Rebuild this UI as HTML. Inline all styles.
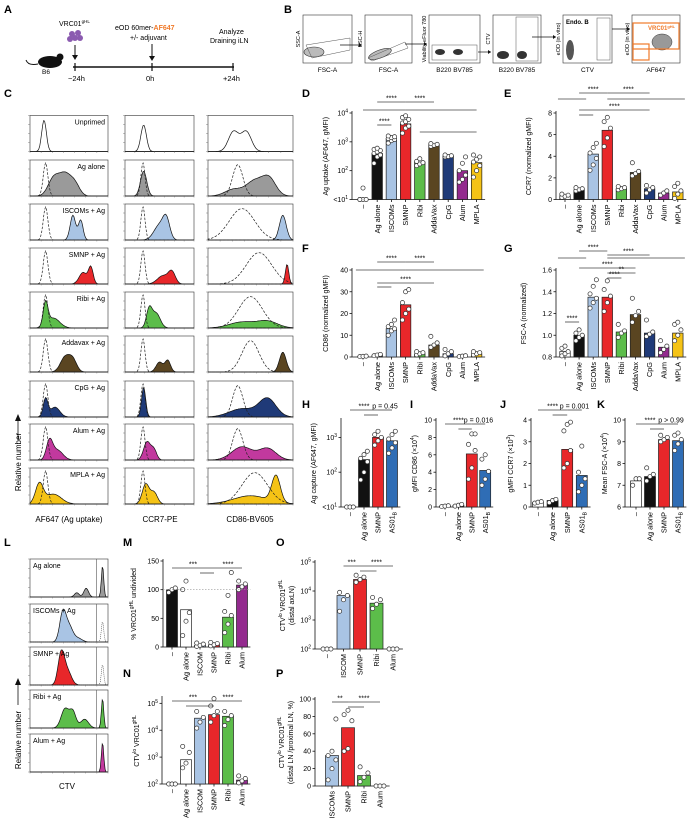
<!DOCTYPE html>
<html><head><meta charset="utf-8">
<style>
html,body{margin:0;padding:0;background:#fff;}
svg{display:block;font-family:"Liberation Sans",Arial,sans-serif;}
</style></head>
<body>
<svg id="fig" width="690" height="823" viewBox="0 0 690 823">
<!-- Panel A -->
<g>
<text x="4" y="13" font-size="11" font-weight="bold">A</text>
<ellipse cx="50" cy="62" rx="12" ry="6" fill="#111"/>
<circle cx="60" cy="57" r="3.5" fill="#111"/><path d="M38 64 Q28 66 26 60" stroke="#111" fill="none" stroke-width="1"/>
<text x="42" y="74" font-size="6.5">B6</text>
<circle cx="72" cy="34" r="3" fill="#8b5bb0"/><circle cx="78" cy="33" r="3" fill="#8b5bb0"/><circle cx="75" cy="38" r="3" fill="#8b5bb0"/><circle cx="70" cy="39" r="3" fill="#8b5bb0"/><circle cx="80" cy="38" r="3" fill="#8b5bb0"/>
<text x="59" y="26" font-size="7">VRC01<tspan font-size="4.5" dy="-3">gHL</tspan></text>
<line x1="75" y1="45" x2="75" y2="57" stroke="#111"/><path d="M72 55 L75 60 L78 55Z" fill="#111"/>
<line x1="73" y1="67" x2="234" y2="67" stroke="#111" stroke-width="1.5"/>
<line x1="75" y1="63" x2="75" y2="71" stroke="#111" stroke-width="1.2"/><line x1="152" y1="63" x2="152" y2="71" stroke="#111" stroke-width="1.2"/><line x1="233" y1="63" x2="233" y2="71" stroke="#111" stroke-width="1.2"/>
<text x="68" y="81" font-size="7.5">−24h</text><text x="146" y="81" font-size="7.5">0h</text><text x="223" y="81" font-size="7.5">+24h</text>
<text x="115" y="30" font-size="7">eOD 60mer-<tspan fill="#f07a2a" font-weight="bold">AF647</tspan></text>
<text x="130" y="40" font-size="7">+/- adjuvant</text>
<line x1="152" y1="44" x2="152" y2="58" stroke="#111"/><path d="M149 56 L152 61 L155 56Z" fill="#111"/>
<text x="219" y="34" font-size="7">Analyze</text><text x="210" y="43" font-size="7">Draining iLN</text>
</g>
<text x="284" y="13" font-size="11" font-weight="bold">B</text>
<g id="pb"></g>
<g id="pc"></g>
<g id="charts"></g>
<g id="pl"></g>
</svg>
<script>
// ---------- DATA ----------
const catsD = ['–','Ag alone','ISCOMs','SMNP','Ribi','AddaVax','CpG','Alum','MPLA'];
const colorsD = ['#ffffff','#111111','#a9c4e4','#e8272a','#5cbd4a','#5a4521','#1f3a78','#932a8e','#f5c316'];
const valsD = [10,400,1300,4200,200,800,320,100,190];
const ptsD = [[10,10,10,10,25],[180,300,350,400,450,500,550,600],[900,1100,1200,1300,1400,1500,1600],[2000,3000,3500,4500,5000,6000,7000,8000],[150,170,190,210,260],[700,760,820,870],[300,310,330,350],[40,50,70,100,180,300],[60,100,150,200,250,300,350]];
const valsE = [0.35,0.9,4.2,6.4,1.0,2.5,1.0,0.6,0.7];
const ptsE = [[0.2,0.3,0.4,0.5],[0.8,0.9,1.0,1.1],[2.7,3.2,3.8,4.3,4.8,5.2],[4.9,5.7,6.6,7.2,7.6],[0.9,1.0,1.1,1.2],[2.2,2.4,2.6,3.4],[0.6,0.9,1.1,1.3],[0.4,0.6,0.8],[0.1,0.5,0.8,1.2,1.5]];
const valsF = [0.3,0.8,13,24,1.5,5.5,1.5,0.4,1.5];
const ptsF = [[0.2,0.3,0.4],[0.6,0.9,1.2],[10,12,13,14,15,17],[17,20,22,25,30,31],[1,1.5,2,2.5],[4.5,5.5,6.5,9.5],[0.5,1.5,2.5,3.5],[0.2,0.4,0.6],[1,1.5,2,2.5]];
const valsG = [0.85,1.0,1.35,1.35,1.03,1.19,1.02,0.89,1.02];
const ptsG = [[0.81,0.83,0.85,0.88,0.9],[0.95,0.98,1.0,1.02,1.05],[1.25,1.3,1.34,1.38,1.45,1.51],[1.22,1.3,1.36,1.42,1.5],[0.98,1.02,1.04,1.1],[1.12,1.18,1.22,1.34],[0.99,1.01,1.03,1.14],[0.84,0.87,0.9,0.95],[0.95,1.0,1.05,1.1,1.12]];
const catsH = ['–','Ag alone','SMNP','AS01B'];
const colorsH = ['#ffffff','#111111','#e8272a','#2f6db5'];
const valsH = [10,230,1000,800];
const ptsH = [[10,10,10],[60,100,200,250,320,400],[600,800,1000,1200,1500],[350,500,700,900,1200,1500]];
const valsI = [0.1,0.2,6.1,4.2];
const ptsI = [[0.05,0.1,0.15],[0.1,0.2,0.3],[3.2,4.5,6.5,7.2,8.4,8.4],[2.5,3.2,4.1,5.5,6.0]];
const valsJ = [0.2,0.3,2.65,1.45];
const ptsJ = [[0.18,0.22,0.25],[0.2,0.3,0.35],[1.8,2.0,2.6,3.5,3.8,3.9],[0.7,1.0,1.3,1.6,2.8]];
const valsK = [7.2,7.4,9.1,9.05];
const ptsK = [[7.0,7.3,7.3],[7.2,7.4,7.5,7.8],[9.0,9.1,9.2,9.3],[8.6,8.9,9.1,9.3,9.4]];
const catsM = ['–','Ag alone','ISCOM','SMNP','Ribi','Alum'];
const colorsM = ['#111111','#ffffff','#a9c4e4','#e8272a','#5cbd4a','#932a8e'];
const valsM = [100,65,3,4,52,108];
const ptsM = [[95,100,103],[20,45,60,100,115],[1,3,5,7],[2,4,6,8],[25,40,55,62,90,130],[100,105,110,115]];
const valsN = [100,800,28000,38000,33000,140];
const ptsN = [[100,100,100],[400,600,1500,2500],[12000,20000,30000,50000],[20000,35000,50000,80000,150000],[15000,25000,35000,50000],[110,130,160,200]];
const catsO = ['–','ISCOM','SMNP','Ribi','Alum'];
const colorsO = ['#ffffff','#a9c4e4','#e8272a','#5cbd4a','#932a8e'];
const valsO = [100,7000,25000,3800,100];
const ptsO = [[100,100,100],[2000,5000,7000,9000],[20000,25000,30000,35000],[2500,3500,5000,6000],[100,100,100]];
const catsP = ['ISCOMs','SMNP','Ribi','Alum'];
const colorsP = ['#a9c4e4','#e8272a','#5cbd4a','#932a8e'];
const valsP = [35,67,12,0];
const ptsP = [[7,20,30,35,40,77],[40,43,75,82,87],[5,10,15,22],[0,0,0]];

// ---------- HELPERS ----------
const NS='http://www.w3.org/2000/svg';
function mk(tag, attrs, parent, name){
  const e=document.createElementNS(NS,tag);
  for(const k in attrs) e.setAttribute(k,attrs[k]);
  
  
  parent.appendChild(e);
  return e;
}
function txt(parent,x,y,s,size,name,extra){
  const a=Object.assign({x:x,y:y,'font-size':size},extra||{});
  const t=mk('text',a,parent,name);
  t.innerHTML=s;
  return t;
}
const sup = n => '10<tspan font-size="5" dy="-3">'+n+'</tspan>';
const charts=document.getElementById('charts');

function barChart(c){
  const g=mk('g',{},charts,c.name);
  const lo=c.log?Math.log10(c.domain[0]):c.domain[0];
  const hi=c.log?Math.log10(c.domain[1]):c.domain[1];
  const ys=v=>{let t=c.log?Math.log10(Math.max(v,c.domain[0])):Math.max(v,c.domain[0]);return c.yBot-(t-lo)/(hi-lo)*(c.yBot-c.yTop);};
  const n=c.vals.length;
  const xEnd=c.x0+(n-1)*c.step+c.step*0.6;
  mk('line',{x1:c.ax,y1:c.yTop-2,x2:c.ax,y2:c.yBot,stroke:'#111','stroke-width':0.8},g,'y-axis');
  mk('line',{x1:c.ax,y1:c.yBot,x2:xEnd,y2:c.yBot,stroke:'#111','stroke-width':0.8},g,'x-axis');
  c.ticks.forEach((t,i)=>{
    const y=ys(t);
    mk('line',{x1:c.ax-2.5,y1:y,x2:c.ax,y2:y,stroke:'#111','stroke-width':0.8},g,'y-tick');
    txt(g,c.ax-4,y+2.5,c.tickLabels[i],7,'y-tick-label',{'text-anchor':'end'});
  });
  c.vals.forEach((v,i)=>{
    const xc=c.x0+i*c.step;
    const yv=ys(v);
    if(c.yBot-yv>0.3){
      const b=mk('rect',{x:xc-c.bw/2,y:yv,width:c.bw,height:c.yBot-yv,fill:c.colors[i],stroke:'#222','stroke-width':0.7},g,'bar-'+i);
      
    }
    mk('line',{x1:xc,y1:c.yBot,x2:xc,y2:c.yBot+2.5,stroke:'#111','stroke-width':0.8},g,'x-tick');
    const lab=c.cats[i]==='AS01B'?'AS01<tspan font-size="5" dy="2">B</tspan>':c.cats[i];
    txt(g,0,0,lab,7.3,'x-tick-label',{'text-anchor':'end',transform:'translate('+(xc+2.6)+','+(c.yBot+5)+') rotate(-90)'});
    const pts=c.pts[i];
    pts.forEach((p,j)=>{
      const off=(j%3-1)*c.bw*0.3;
      const d=mk('circle',{cx:xc+off,cy:ys(p),r:2.1,fill:'#fff',stroke:'#333','stroke-width':0.7},g,'data-point');
      
    });
  });
  const mid=(c.yTop+c.yBot)/2;
  c.title.forEach((t,k)=>{
    txt(g,0,0,t,7,'y-axis-title',{'text-anchor':'middle',transform:'translate('+(c.tx+k*9)+','+mid+') rotate(-90)'});
  });
  txt(g,c.lx,c.ly,c.letter,11,'panel-label',{'font-weight':'bold'});
  (c.sig||[]).forEach(s=>{
    const x1=c.x0+s[0]*c.step, x2=c.x0+s[1]*c.step;
    mk('line',{x1:x1,y1:s[2],x2:x2,y2:s[2],stroke:'#444','stroke-width':0.8},g,'significance-bracket');
    if(s[3]) txt(g,(x1+x2)/2,s[2]-1.5,s[3],7,'significance-label',{'text-anchor':'middle'});
  });
  if(c.dotted!==undefined){
    mk('line',{x1:c.ax,y1:ys(c.dotted),x2:xEnd,y2:ys(c.dotted),stroke:'#999','stroke-width':0.7,'stroke-dasharray':'1.5,1.5'},g,'reference-line');
  }
  return g;
}

// ---------- CHARTS ----------
barChart({name:'chart-d',letter:'D',lx:302,ly:97,ax:352,yTop:113,yBot:199.5,domain:[10,10000],log:true,ticks:[10,100,1000,10000],tickLabels:['&lt;'+sup(1),sup(2),sup(3),sup(4)],cats:catsD,vals:valsD,pts:ptsD,colors:colorsD,x0:363,step:14.2,bw:10.5,title:['Ag uptake (AF647, gMFI)'],tx:328,
 sig:[[0,3,110,''],[1,3,102,'****'],[3,8,110,''],[3,5,102,'****'],[1,2,125,'****'],[4,8,132,'']]});
barChart({name:'chart-e',letter:'E',lx:504,ly:97,ax:556,yTop:113,yBot:199.5,domain:[0,8],log:false,ticks:[0,2,4,6,8],tickLabels:['0','2','4','6','8'],cats:catsD,vals:valsE,pts:ptsE,colors:colorsD,x0:565,step:14.1,bw:10.5,title:['CCR7 (normalized gMFI)'],tx:531,
 sig:[[-0.5,1.5,99,''],[1,3,93,'****'],[3,8.5,99,''],[3,6,93,'****'],[1,6,110,'****'],[1,2,115,'']]});
barChart({name:'chart-f',letter:'F',lx:302,ly:252,ax:352,yTop:270,yBot:357,domain:[0,40],log:false,ticks:[0,10,20,30,40],tickLabels:['0','10','20','30','40'],cats:catsD,vals:valsF,pts:ptsF,colors:colorsD,x0:363,step:14.2,bw:10.5,title:['CD86 (normalized gMFI)'],tx:328,
 sig:[[-0.5,3,270,''],[1,3,262,'****'],[3,8.5,270,''],[3,5,262,'****'],[1,5,283,'****'],[1,2,287,'']]});
barChart({name:'chart-g',letter:'G',lx:504,ly:252,ax:556,yTop:270,yBot:357,domain:[0.8,1.6],log:false,ticks:[0.8,1.0,1.2,1.4,1.6],tickLabels:['0.8','1.0','1.2','1.4','1.6'],cats:catsD,vals:valsG,pts:ptsG,colors:colorsD,x0:565,step:14.1,bw:10.5,title:['FSC-A (normalized)'],tx:526,
 sig:[[-0.5,1.5,258,''],[1,3,251,'****'],[1,5,268,'****'],[3,8.5,258,''],[3,6,255,'****'],[3,5,273,'**'],[3,4,278,'****'],[0,1,322,'****']]});
barChart({name:'chart-h',letter:'H',lx:302,ly:408,ax:341,yTop:420,yBot:507,domain:[10,3162],log:true,ticks:[10,100,1000],tickLabels:['&lt;'+sup(1),sup(2),sup(3)],cats:catsH,vals:valsH,pts:ptsH,colors:colorsH,x0:350,step:14,bw:11,title:['Ag capture (AF647, gMFI)'],tx:316,
 sig:[[0,2,410,'****'],[2,3,410,'p = 0.45'],[1,2,415,'']]});
barChart({name:'chart-i',letter:'I',lx:410,ly:408,ax:436,yTop:420,yBot:507,domain:[0,10],log:false,ticks:[0,2,4,6,8,10],tickLabels:['0','2','4','6','8','10'],cats:catsH,vals:valsI,pts:ptsI,colors:colorsH,x0:445,step:13.4,bw:11,title:['gMFI CD86 (×10<tspan font-size="5" dy="-3">4</tspan><tspan dy="3">)</tspan>'],tx:417,
 sig:[[0,2,424,'****'],[2,3,424,'p = 0.016'],[1,2,429,'']]});
barChart({name:'chart-j',letter:'J',lx:500,ly:408,ax:531,yTop:420,yBot:507,domain:[0,4],log:false,ticks:[0,1,2,3,4],tickLabels:['0','1','2','3','4'],cats:catsH,vals:valsJ,pts:ptsJ,colors:colorsH,x0:538,step:14.6,bw:11,title:['gMFI CCR7 (×10<tspan font-size="5" dy="-3">3</tspan><tspan dy="3">)</tspan>'],tx:513,
 sig:[[0,2,410,'****'],[2,3,410,'p = 0.001'],[1,2,415,'']]});
barChart({name:'chart-k',letter:'K',lx:597,ly:408,ax:625,yTop:420,yBot:507,domain:[6,10],log:false,ticks:[6,7,8,9,10],tickLabels:['6','7','8','9','10'],cats:catsH,vals:valsK,pts:ptsK,colors:colorsH,x0:636,step:14,bw:11,title:['Mean FSC-A (×10<tspan font-size="5" dy="-3">4</tspan><tspan dy="3">)</tspan>'],tx:607,
 sig:[[0,2,424,'****'],[2,3,424,'p &gt; 0.99'],[1,2,429,'']]});
barChart({name:'chart-m',letter:'M',lx:123,ly:546,ax:163,yTop:561,yBot:647,domain:[0,150],log:false,ticks:[0,50,100,150],tickLabels:['0','50','100','150'],cats:catsM,vals:valsM,pts:ptsM,colors:colorsM,x0:172,step:14,bw:11,title:['% VRC01<tspan font-size="5" dy="-3">gHL</tspan><tspan dy="3"> undivided</tspan>'],tx:136,dotted:100,
 sig:[[0,3,568,'***'],[3,5,568,'****'],[2,3,573,'']]});
barChart({name:'chart-n',letter:'N',lx:123,ly:677,ax:162,yTop:698,yBot:784,domain:[100,158000],log:true,ticks:[100,1000,10000,100000],tickLabels:[sup(2),sup(3),sup(4),sup(5)],cats:catsM,vals:valsN,pts:ptsN,colors:colorsM,x0:172,step:14,bw:11,title:['CTV<tspan font-size="5" dy="-3">lo</tspan><tspan dy="3"> VRC01</tspan><tspan font-size="5" dy="-3">gHL</tspan>'],tx:139,
 sig:[[0,3,701,'***'],[3,5,701,'****'],[1,3,706,'']]});
barChart({name:'chart-o',letter:'O',lx:276,ly:546,ax:315,yTop:562,yBot:649,domain:[100,100000],log:true,ticks:[100,1000,10000,100000],tickLabels:[sup(2),sup(3),sup(4),sup(5)],cats:catsO,vals:valsO,pts:ptsO,colors:colorsO,x0:327,step:16.5,bw:13,title:['CTV<tspan font-size="5" dy="-3">lo</tspan><tspan dy="3"> VRC01</tspan><tspan font-size="5" dy="-3">gHL</tspan>','(distal axLN)'],tx:285,
 sig:[[1,2,566,'***'],[2,4,566,'****'],[2,3,571,'']]});
barChart({name:'chart-p',letter:'P',lx:276,ly:677,ax:315,yTop:699,yBot:786,domain:[0,100],log:false,ticks:[0,20,40,60,80,100],tickLabels:['0','20','40','60','80','100'],cats:catsP,vals:valsP,pts:ptsP,colors:colorsP,x0:332,step:16,bw:13,title:['CTV<tspan font-size="5" dy="-3">lo</tspan><tspan dy="3"> VRC01</tspan><tspan font-size="5" dy="-3">gHL</tspan>','(distal LN /proximal LN, %)'],tx:284,
 sig:[[0,1,702,'**'],[1,3,702,'****'],[1,2,707,'']]});

// ---------- HISTOGRAMS (C) ----------
const rowLabelsC = ['Unprimed','Ag alone','ISCOMs + Ag','SMNP + Ag','Ribi + Ag','Addavax + Ag','CpG + Ag','Alum + Ag','MPLA + Ag'];
const rowColorsC = ['none','#9a9a9a','#a9c4e4','#e8272a','#5cbd4a','#5a4521','#1f3a78','#c2399e','#f5c316'];
// each: [center, width, height] gaussian components
const histC = [
 [[[0.18,0.03,0.95]],[[0.27,0.04,0.8]],[[0.3,0.06,0.6],[0.45,0.06,0.6]]],
 [[[0.3,0.07,0.5],[0.45,0.08,0.65],[0.58,0.06,0.3]],[[0.27,0.045,0.75]],[[0.3,0.1,0.2],[0.55,0.1,0.45],[0.72,0.08,0.5]]],
 [[[0.55,0.035,0.75],[0.65,0.03,0.6]],[[0.5,0.08,0.45],[0.6,0.05,0.55]],[[0.88,0.04,0.75]]],
 [[[0.68,0.05,0.35],[0.78,0.03,0.5]],[[0.55,0.08,0.25],[0.68,0.05,0.35]],[[0.93,0.02,0.6]]],
 [[[0.2,0.03,0.7],[0.3,0.08,0.3]],[[0.35,0.04,0.55],[0.45,0.06,0.45]],[[0.4,0.15,0.18],[0.7,0.12,0.2]]],
 [[[0.45,0.06,0.45],[0.55,0.05,0.35]],[[0.5,0.05,0.3],[0.62,0.04,0.35]],[[0.88,0.04,0.6]]],
 [[[0.2,0.03,0.55],[0.32,0.06,0.3]],[[0.27,0.03,0.9]],[[0.4,0.15,0.25],[0.7,0.1,0.55]]],
 [[[0.25,0.04,0.55],[0.35,0.07,0.3]],[[0.32,0.05,0.55],[0.42,0.04,0.3]],[[0.4,0.12,0.4],[0.7,0.1,0.35]]],
 [[[0.12,0.05,0.6],[0.3,0.1,0.3]],[[0.3,0.05,0.6],[0.42,0.05,0.35]],[[0.5,0.2,0.25],[0.8,0.05,0.8]]]
];
const dashC = [[0.2,0.03,1.0],[0.26,0.03,1.0],[0.35,0.06,0.95]];
const dashC3 = [0.35,0.35,0.4,0.6,0.5,0.5,0.35,0.35,0.55];
const dashW3 = [0.06,0.06,0.15,0.15,0.14,0.1,0.06,0.06,0.15];
const colX=[30,125,208], colW=[78,69,85];
const rowY=[115.5,160,204,248,292,336,381,424,468], rowH=36;

const pc=document.getElementById('pc');
txt(pc,4,97,'C',11,'panel-label-c',{'font-weight':'bold'});
function curve(comps,x,y,w,h){
  let d='M'+x+','+(y+h);
  for(let k=0;k<=80;k++){
    const t=k/80; let v=0;
    comps.forEach(c=>{v+=c[2]*Math.exp(-0.5*Math.pow((t-c[0])/c[1],2));});
    v=Math.min(v,1);
    d+=' L'+(x+t*w).toFixed(1)+','+(y+h-v*(h-3)).toFixed(1);
  }
  return d+' L'+(x+w)+','+(y+h)+'Z';
}
function axisTicks(g,x,y,w,h){
  for(let k=0;k<5;k++){ mk('line',{x1:x-2,y1:y+h-k*h/4,x2:x,y2:y+h-k*h/4,stroke:'#666','stroke-width':0.4},g,'tick'); }
  for(let k=0;k<8;k++){ mk('line',{x1:x+k*w/7,y1:y+h,x2:x+k*w/7,y2:y+h+1.5,stroke:'#666','stroke-width':0.4},g,'tick'); }
}
rowLabelsC.forEach((lab,r)=>{
  for(let c=0;c<3;c++){
    const x=colX[c], y=rowY[r], w=colW[c];
    const g=mk('g',{},pc,'histogram-'+r+'-'+c);
    mk('rect',{x:x,y:y,width:w,height:rowH,fill:'#fff',stroke:'#333','stroke-width':0.6},g,'histogram-frame');
    const comps=histC[r][c];
    const p=mk('path',{d:curve(comps,x,y,w,rowH),fill:rowColorsC[r]==='none'?'none':rowColorsC[r],stroke:'#111','stroke-width':0.7},g,'histogram-fill');
    if(r>0){
      const dc=c<2?[dashC[c]]:[[dashC3[r],dashW3[r],0.95]];
      mk('path',{d:curve(dc,x,y,w,rowH),fill:'none',stroke:'#222','stroke-width':0.7,'stroke-dasharray':'2.5,1.5'},g,'control-histogram');
    }
    axisTicks(g,x,y,w,rowH);
    if(c===0) txt(g,x+w-3,y+9,lab,7,'row-label',{'text-anchor':'end'});
  }
});
txt(pc,69,522,'AF647 (Ag uptake)',8,'x-label-af647',{'text-anchor':'middle'});
txt(pc,160,522,'CCR7-PE',8,'x-label-ccr7',{'text-anchor':'middle'});
txt(pc,250,522,'CD86-BV605',8,'x-label-cd86',{'text-anchor':'middle'});
txt(pc,0,0,'Relative number',8,'y-label-relative-number',{'text-anchor':'middle',transform:'translate(21,462) rotate(-90)'});
mk('line',{x1:18,y1:440,x2:18,y2:418,stroke:'#111','stroke-width':0.8},pc,'arrow-line');
mk('path',{d:'M15 421 L18 414 L21 421Z',fill:'#111'},pc,'arrow-head');

// ---------- HISTOGRAMS (L) ----------
const rowLabelsL = ['Ag alone','ISCOMs + Ag','SMNP + Ag','Ribi + Ag','Alum + Ag'];
const rowColorsL = ['#9a9a9a','#a9c4e4','#e8272a','#5cbd4a','#c2399e'];
const histL = [
 [[0.6,0.03,0.12],[0.72,0.03,0.25],[0.93,0.015,0.9]],
 [[0.42,0.04,0.8],[0.5,0.05,0.45],[0.62,0.05,0.1]],
 [[0.4,0.04,0.9],[0.48,0.05,0.4]],
 [[0.45,0.05,0.55],[0.55,0.04,0.45],[0.7,0.05,0.25],[0.93,0.015,0.85]],
 [[0.93,0.015,0.85]]
];
const rowYL=[559,604,647,690,734], hL=38, xL=30, wL=78;
const pl=document.getElementById('pl');
txt(pl,4,546,'L',11,'panel-label-l',{'font-weight':'bold'});
rowLabelsL.forEach((lab,r)=>{
  const g=mk('g',{},pl,'ctv-histogram-'+r);
  mk('rect',{x:xL,y:rowYL[r],width:wL,height:hL,fill:'#fff',stroke:'#333','stroke-width':0.6},g,'histogram-frame');
  mk('path',{d:curve(histL[r],xL,rowYL[r],wL,hL),fill:rowColorsL[r],stroke:'#111','stroke-width':0.7},g,'histogram-fill');
  if(r===1||r===2) mk('path',{d:curve([[0.93,0.015,0.6]],xL,rowYL[r],wL,hL),fill:'none',stroke:'#444','stroke-width':0.6,'stroke-dasharray':'1,1'},g,'undivided-reference');
  mk('line',{x1:xL+wL*0.85,y1:rowYL[r],x2:xL+wL*0.85,y2:rowYL[r]+hL,stroke:'#555','stroke-width':0.6},g,'gate-line');
  axisTicks(g,xL,rowYL[r],wL,hL);
  txt(g,xL+3,rowYL[r]+9,lab,7,'row-label');
});
txt(pl,67,789,'CTV',8,'x-label-ctv',{'text-anchor':'middle'});
txt(pl,0,0,'Relative number',8,'y-label-relative-number',{'text-anchor':'middle',transform:'translate(21,740) rotate(-90)'});
mk('line',{x1:18,y1:705,x2:18,y2:682,stroke:'#111','stroke-width':0.8},pl,'arrow-line');
mk('path',{d:'M15 685 L18 678 L21 685Z',fill:'#111'},pl,'arrow-head');

// ---------- PANEL B (gating) ----------
const pb=document.getElementById('pb');
const gateX=[303,365,429,493,563,632], gateW=[49,47,51,48,49,48];
const gateXL=['FSC-A','FSC-A','B220 BV785','B220 BV785','CTV','AF647'];
const gateYL=['SSC-A','FSC-H','Viability eFluor 780','CTV','eOD (in vitro)','eOD (in vitro)'];
gateX.forEach((x,i)=>{
  const g=mk('g',{},pb,'gating-plot-'+i);
  mk('rect',{x:x,y:15,width:gateW[i],height:48,fill:'#fff',stroke:'#333','stroke-width':0.6},g,'plot-frame');
  txt(g,x+gateW[i]/2,72,gateXL[i],6.5,'gating-x-label',{'text-anchor':'middle'});
  txt(g,0,0,gateYL[i],5.5,'gating-y-label',{'text-anchor':'middle',transform:'translate('+(x-3)+',39) rotate(-90)'});
});
mk('ellipse',{cx:314,cy:52,rx:10,ry:5,fill:'#bbb',stroke:'#333','stroke-width':0.6},pb,'cell-cloud');
mk('polygon',{points:'306,45 350,38 350,50 312,58',fill:'none',stroke:'#555','stroke-width':0.5},pb,'gate');
mk('ellipse',{cx:380,cy:54,rx:12,ry:4,fill:'#bbb',stroke:'#333','stroke-width':0.6,transform:'rotate(-20 380 54)'},pb,'cell-cloud');
mk('polygon',{points:'368,58 405,42 408,48 372,61',fill:'none',stroke:'#555','stroke-width':0.5},pb,'gate');
mk('ellipse',{cx:440,cy:52,rx:5,ry:3,fill:'#333'},pb,'cell-cloud');mk('ellipse',{cx:458,cy:52,rx:5,ry:3,fill:'#333'},pb,'cell-cloud');
mk('rect',{x:432,y:45,width:45,height:15,fill:'none',stroke:'#555','stroke-width':0.5},pb,'gate');
mk('ellipse',{cx:503,cy:55,rx:6,ry:4,fill:'#333'},pb,'cell-cloud');mk('ellipse',{cx:522,cy:55,rx:5,ry:4,fill:'#333'},pb,'cell-cloud');
mk('rect',{x:516,y:17,width:22,height:44,fill:'none',stroke:'#555','stroke-width':0.5},pb,'gate');
mk('ellipse',{cx:570,cy:50,rx:4,ry:10,fill:'#555'},pb,'cell-cloud');
txt(pb,566,24,'Endo. B',6,'endo-b-label',{'font-weight':'bold'});
mk('rect',{x:597,y:18,width:13,height:42,fill:'none',stroke:'#555','stroke-width':0.5},pb,'gate');
mk('ellipse',{cx:662,cy:42,rx:10,ry:8,fill:'#999',stroke:'#333','stroke-width':0.5},pb,'cell-cloud');
mk('rect',{x:633,y:23,width:46,height:26,fill:'none',stroke:'#f07a2a','stroke-width':1.2},pb,'vrc01-gate');
mk('rect',{x:633,y:44,width:16,height:16,fill:'none',stroke:'#f07a2a','stroke-width':1.2},pb,'gate');
txt(pb,648,30,'VRC01<tspan font-size="4" dy="-2">gHL</tspan>',6,'vrc01-gate-label',{fill:'#f07a2a','font-weight':'bold'});
[[340,45,362],[405,44,427],[478,52,491],[532,37,556],[612,29,630]].forEach(a=>{
  mk('line',{x1:a[0],y1:a[1],x2:a[2],y2:a[1],stroke:'#111','stroke-width':0.7},pb,'gate-arrow');
  mk('path',{d:'M'+(a[2]-3)+' '+(a[1]-2)+' L'+a[2]+' '+a[1]+' L'+(a[2]-3)+' '+(a[1]+2)+'Z',fill:'#111'},pb,'gate-arrow-head');
});
</script>
</body></html>
